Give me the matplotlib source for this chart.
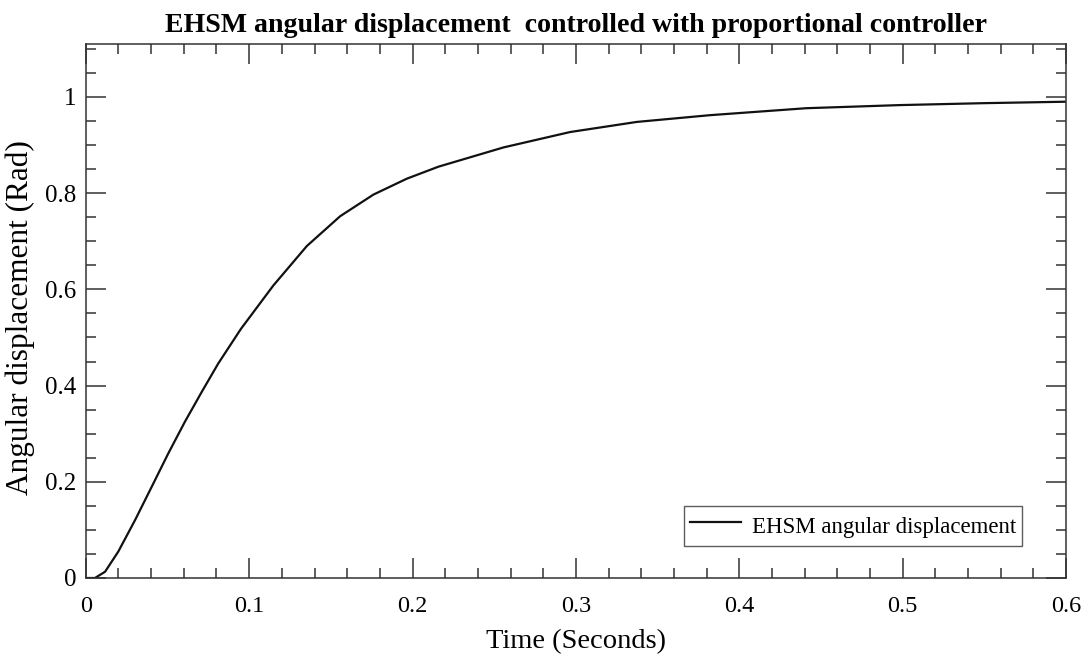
import matplotlib
matplotlib.use("Agg")
import matplotlib.pyplot as plt
from matplotlib.ticker import MultipleLocator

# Data
time_s = [0.0, 0.0056, 0.0118, 0.0199, 0.0301, 0.0404, 0.0505, 0.0607, 0.0710,
          0.0811, 0.0950, 0.1148, 0.1353, 0.1557, 0.1761, 0.1965, 0.2159,
          0.2557, 0.2965, 0.3373, 0.382, 0.441, 0.4986, 0.55, 0.6]
angle_rad = [0.0, 0.0, 0.013, 0.055, 0.120, 0.190, 0.259, 0.325, 0.387,
             0.446, 0.518, 0.608, 0.690, 0.752, 0.797, 0.830, 0.855,
             0.895, 0.927, 0.948, 0.962, 0.9765, 0.983, 0.987, 0.990]
series_label = "EHSM angular displacement"
title_text = "EHSM angular displacement  controlled with proportional controller"
x_label = "Time (Seconds)"
y_label = "Angular displacement (Rad)"
x_ticks = [0, 0.1, 0.2, 0.3, 0.4, 0.5, 0.6]
x_tick_labels = ["0", "0.1", "0.2", "0.3", "0.4", "0.5", "0.6"]
y_ticks = [0, 0.2, 0.4, 0.6, 0.8, 1.0]
y_tick_labels = ["0", "0.2", "0.4", "0.6", "0.8", "1"]

plt.rcParams['font.family'] = ['Liberation Serif', 'DejaVu Serif']

W, H = 1088, 657
fig = plt.figure(figsize=(W / 100, H / 100), dpi=100)
left, right, top, bottom = 85.8, 1066, 43.5, 578
ax = fig.add_axes([left / W, 1 - bottom / H, (right - left) / W, (bottom - top) / H])

spine_col = '#333333'
ax.plot(time_s, angle_rad, color='#111111', lw=1.6, label=series_label)

ax.set_xlim(0, 0.6)
ax.set_ylim(0, 1.111)
ax.set_xticks(x_ticks)
ax.set_xticklabels(x_tick_labels)
ax.set_yticks(y_ticks)
ax.set_yticklabels(y_tick_labels)
ax.xaxis.set_minor_locator(MultipleLocator(0.02))
ax.yaxis.set_minor_locator(MultipleLocator(0.05))

for s in ax.spines.values():
    s.set_color(spine_col)
    s.set_linewidth(1.1)

ax.tick_params(which='both', direction='in', top=True, right=True, color=spine_col, width=1.1)
ax.tick_params(which='major', length=14.5)
ax.tick_params(which='minor', length=7.2)
ax.tick_params(axis='x', which='major', labelsize=17.5, pad=13)
ax.tick_params(axis='y', which='major', labelsize=18, pad=7)

ax.set_xlabel(x_label, fontsize=20.5, labelpad=9)
ax.set_ylabel(y_label, fontsize=22.5)
ax.yaxis.set_label_coords(-0.0515, (bottom - 317.5) / (bottom - top))
ax.set_title(title_text, fontsize=20.1, fontweight='bold', pad=8)

leg = ax.legend(loc='lower right',
                bbox_to_anchor=((1022 - left) / (right - left), (bottom - 545.7) / (bottom - top)),
                fontsize=16.5, frameon=True, fancybox=False, handlelength=2.2,
                handleheight=1.55, borderpad=0.25, handletextpad=0.5, borderaxespad=0)
leg.get_frame().set_edgecolor(spine_col)
leg.get_frame().set_linewidth(1.0)

fig.savefig("out.png", dpi=100)
